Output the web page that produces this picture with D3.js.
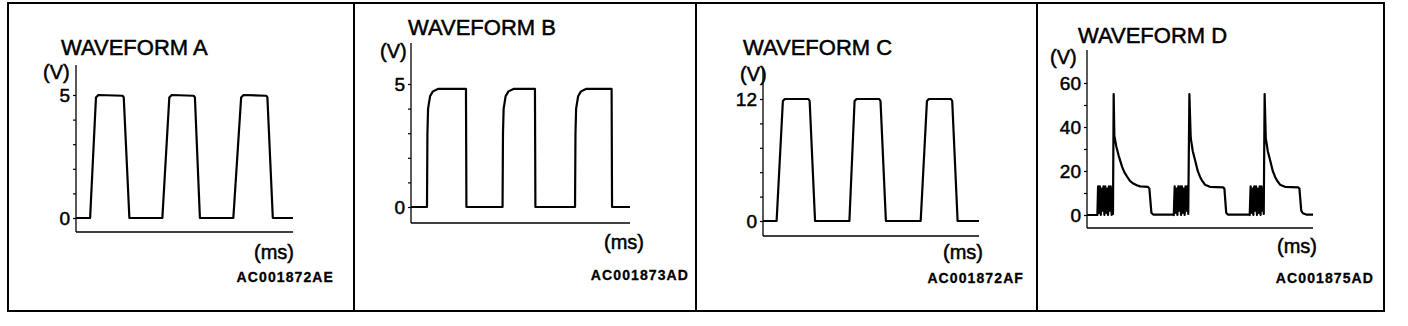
<!DOCTYPE html>
<html lang="en">
<head>
    <meta charset="UTF-8">
    <title>Waveforms A-D</title>
    <script src="https://d3js.org/d3.v7.js"></script>
    <style>
        body{
            margin: 0;
            background-color: #fff;
            overflow: hidden;
        }
        svg{
            display: block;
            font-family: 'Liberation Sans', Arial, sans-serif;
        }
        text{
            stroke: #000;
            stroke-width: 0.5px;
        }
        .title{
            font-size: 22px;
        }
        .unit{
            font-size: 20px;
        }
        .code{
            font-size: 14px;
            font-weight: bold;
            letter-spacing: 1.1px;
            stroke-width: 0.3px;
        }
        .tick text{
            font-size: 19px;
            font-family: 'Liberation Sans', Arial, sans-serif;
            fill: #000;
        }
    </style>
</head>
<body>
    <script>

        //titles and figure codes
        var titles = ["WAVEFORM A", "WAVEFORM B", "WAVEFORM C", "WAVEFORM D"];
        var codes = ["AC001872AE", "AC001873AD", "AC001872AF", "AC001875AD"];

        //y ticks (all marks) and the ones with a label
        var ticksA = [0, 1, 2, 3, 4, 5];
        var labelsA = [0, 5];
        var ticksB = [0, 1, 2, 3, 4, 5];
        var labelsB = [0, 5];
        var ticksC = [0, 2.4, 4.8, 7.2, 9.6, 12];
        var labelsC = [0, 12];
        var ticksD = [0, 10, 20, 30, 40, 50, 60];
        var labelsD = [0, 20, 40, 60];

        //waveforms as [time, volts], time runs 0..100 along the axis
        var waveA = [[0,0],[6.5,0],[9.2,4.9],[10.3,5],[21.5,4.97],[22.0,4.9],[24.6,0],[39.8,0],[43.0,4.9],[44.1,5],[54.2,4.97],[54.8,4.9],[57.1,0],
                     [72.5,0],[76.1,4.9],[77.2,5],[87.7,4.97],[88.2,4.9],[90.7,0],[100,0]];
        var waveB = [[0,0],[7.3,0],[7.5,3.0],[7.8,4.0],[8.7,4.5],[10,4.7],[12.3,4.8],[25.1,4.8],[25.3,0],[41.8,0],[42.0,3.0],[42.3,4.0],
                     [43.2,4.5],[44.5,4.7],[46.8,4.8],[56.6,4.8],[56.8,0],[74.9,0],[75.1,3.0],[75.4,4.0],[76.3,4.5],[77.6,4.7],[79.9,4.8],
                     [91.6,4.8],[91.8,0],[100,0]];
        var waveC = [[0,0],[6.3,0],[9.2,11.8],[10.1,12],[21.0,12],[21.6,11.8],[24.1,0],[40,0],[42.4,11.8],[43.3,12],[53.8,12],[54.4,11.8],[56.9,0],
                     [73,0],[75.9,11.8],[76.8,12],[87.0,12],[87.6,11.8],[90.1,0],[100,0]];
        var waveD = [[0,0],[4.4,0],
                     [4.6,0],[4.9,13],[5.3,1],[5.7,13],[6.1,0],[6.5,12],[6.9,2],[7.3,13],[7.7,0],[8.1,13],[8.5,1],[8.9,12],[9.3,0],[9.7,13],
                     [10.1,2],[10.5,13],[10.9,0],[11.3,12],[11.5,0.5],
                     [11.8,55],[12.1,36],[13.0,31],[14.0,27],[15.5,22],[16.5,19.5],[17.7,17.5],[19.0,15.5],[20.5,14.3],[22.0,13.5],[23.5,13],
                     [27.0,12.8],[27.6,12],[28.5,1],[29.3,0.2],[38.0,0.2],
                     [38.4,0],[38.8,13],[39.2,1],[39.6,12],[40.0,0],[40.4,13],[40.8,2],[41.2,13],[41.6,0],[42.0,13],[42.4,1],[42.8,12],
                     [43.2,0],[43.6,13],[44.0,2],[44.4,13],[44.8,0.5],
                     [45.3,55],[45.9,35],[46.8,29],[47.8,25],[49.0,20],[50.0,17.4],[51.0,15.5],[52.2,13.8],[54.4,12.8],[60.2,12.6],
                     [60.8,12],[61.6,1],[62.3,0.2],[71.6,0.2],
                     [72.0,0],[72.4,13],[72.8,1],[73.2,12],[73.6,0],[74.0,13],[74.4,2],[74.8,13],[75.2,0],[75.6,12],[76.0,1],[76.4,13],
                     [76.8,0],[77.2,13],[77.6,2],[78.0,12],[78.2,0.5],
                     [78.6,55],[79.1,35],[80.0,29],[81.0,25],[82.2,20],[83.2,17.4],[84.2,15.5],[85.4,13.8],[87.6,12.8],[93.4,12.6],
                     [94.0,12],[94.8,2],[95.5,0.8],[97,0.2],[100,0.2]];

        //where each panel sits on the page
        var panels = [
            {wave: waveA, ticks: ticksA, labels: labelsA, yMax: 5,  box: [8, 354],
             axisX: 76,   axisRight: 293,  axisTop: 65, axisBottom: 232, y0: 218, yTop: 95,
             title: [61, 55],   vLabel: [43, 79],   ms: [294, 259],  code: [334, 282]},
            {wave: waveB, ticks: ticksB, labels: labelsB, yMax: 5,  box: [354, 696],
             axisX: 411,  axisRight: 630,  axisTop: 43, axisBottom: 223, y0: 207, yTop: 84,
             title: [408, 35],  vLabel: [380, 58],  ms: [644, 249],  code: [689, 280]},
            {wave: waveC, ticks: ticksC, labels: labelsC, yMax: 12, box: [696, 1037],
             axisX: 763,  axisRight: 979,  axisTop: 68, axisBottom: 236, y0: 221, yTop: 99,
             title: [743, 55],  vLabel: [740, 81],  ms: [983, 259],  code: [1024, 283]},
            {wave: waveD, ticks: ticksD, labels: labelsD, yMax: 60, box: [1037, 1384],
             axisX: 1087, axisRight: 1313, axisTop: 50, axisBottom: 228, y0: 215, yTop: 83,
             title: [1078, 43], vLabel: [1050, 64], ms: [1317, 253], code: [1374, 283]}
        ];

        var svg = d3.select("body")
            .append("svg")
            .attr("width", 1408)
            .attr("height", 326);

        panels.forEach(function(p, i){

            var g = svg.append("g");

            //frame
            g.append("rect")
                .attr("x", p.box[0])
                .attr("y", 3)
                .attr("width", p.box[1] - p.box[0])
                .attr("height", 308)
                .attr("fill", "none")
                .attr("stroke", "#000")
                .attr("stroke-width", 2);

            var xScale = d3.scaleLinear()
                .domain([0, 100])
                .range([p.axisX, p.axisRight]);

            var yScale = d3.scaleLinear()
                .domain([0, p.yMax])
                .range([p.y0, p.yTop]);

            //axis lines
            g.append("line")
                .attr("x1", p.axisX).attr("x2", p.axisX)
                .attr("y1", p.axisTop).attr("y2", p.axisBottom)
                .attr("stroke", "#000").attr("stroke-width", 1.3);
            g.append("line")
                .attr("x1", p.axisX).attr("x2", p.axisRight)
                .attr("y1", p.axisBottom).attr("y2", p.axisBottom)
                .attr("stroke", "#000").attr("stroke-width", 1.3);

            //y ticks, only some labelled
            var yAxis = g.append("g")
                .attr("transform", "translate(" + p.axisX + ",0)")
                .call(d3.axisLeft(yScale)
                    .tickValues(p.ticks)
                    .tickSize(3)
                    .tickPadding(3)
                    .tickFormat(function(d){ return p.labels.indexOf(d) >= 0 ? d : ""; }));
            yAxis.select(".domain").remove();
            yAxis.selectAll(".tick line").attr("stroke", "#000").attr("stroke-width", 1.2);

            //the waveform
            g.append("path")
                .datum(p.wave)
                .attr("fill", "none")
                .attr("stroke", "#000")
                .attr("stroke-width", 2.2)
                .attr("stroke-linejoin", "round")
                .attr("d", d3.line()
                    .x(function(d){ return xScale(d[0]); })
                    .y(function(d){ return yScale(d[1]); }));

            //texts
            g.append("text").attr("class", "title")
                .attr("x", p.title[0]).attr("y", p.title[1])
                .text(titles[i]);
            g.append("text").attr("class", "unit")
                .attr("x", p.vLabel[0]).attr("y", p.vLabel[1])
                .text("(V)");
            g.append("text").attr("class", "unit")
                .attr("x", p.ms[0]).attr("y", p.ms[1])
                .attr("text-anchor", "end")
                .text("(ms)");
            g.append("text").attr("class", "code")
                .attr("x", p.code[0]).attr("y", p.code[1])
                .attr("text-anchor", "end")
                .text(codes[i]);
        });

    </script>
</body>
</html>
